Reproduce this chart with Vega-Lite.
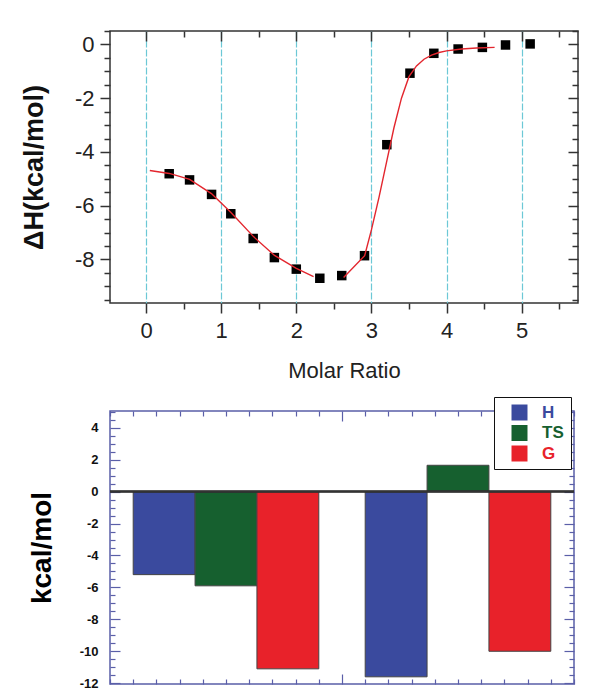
{
  "$schema": "https://vega.github.io/schema/vega-lite/v6.json",
  "background": "white",
  "padding": {"left": 19, "top": 19, "right": 0, "bottom": 0},
  "config": {
    "font": "Liberation Sans",
    "axis": {"labelFont": "Liberation Sans", "titleFont": "Liberation Sans"},
    "legend": {"labelFont": "Liberation Sans"}
  },
  "datasets": {
    "points": [
      {"ratio": 0.308, "dH": -4.81},
      {"ratio": 0.579, "dH": -5.04},
      {"ratio": 0.872, "dH": -5.58},
      {"ratio": 1.128, "dH": -6.30},
      {"ratio": 1.426, "dH": -7.22},
      {"ratio": 1.708, "dH": -7.93},
      {"ratio": 2.0, "dH": -8.36},
      {"ratio": 2.313, "dH": -8.70},
      {"ratio": 2.605, "dH": -8.60},
      {"ratio": 2.908, "dH": -7.86},
      {"ratio": 3.205, "dH": -3.73},
      {"ratio": 3.513, "dH": -1.07},
      {"ratio": 3.831, "dH": -0.33},
      {"ratio": 4.154, "dH": -0.17},
      {"ratio": 4.477, "dH": -0.11},
      {"ratio": 4.785, "dH": -0.02},
      {"ratio": 5.113, "dH": 0.02}
    ],
    "fit": [
      {"seg": "a", "ratio": 0.05, "dH": -4.69},
      {"seg": "a", "ratio": 0.31, "dH": -4.80},
      {"seg": "a", "ratio": 0.58, "dH": -5.02},
      {"seg": "a", "ratio": 0.87, "dH": -5.55},
      {"seg": "a", "ratio": 1.13, "dH": -6.25},
      {"seg": "a", "ratio": 1.43, "dH": -7.15},
      {"seg": "a", "ratio": 1.71, "dH": -7.85},
      {"seg": "a", "ratio": 2.0, "dH": -8.33},
      {"seg": "a", "ratio": 2.23, "dH": -8.64},
      {"seg": "b", "ratio": 2.63, "dH": -8.67},
      {"seg": "b", "ratio": 2.91, "dH": -7.86},
      {"seg": "b", "ratio": 3.0, "dH": -6.9},
      {"seg": "b", "ratio": 3.1, "dH": -5.7},
      {"seg": "b", "ratio": 3.2, "dH": -4.4},
      {"seg": "b", "ratio": 3.3, "dH": -3.1},
      {"seg": "b", "ratio": 3.4, "dH": -2.0},
      {"seg": "b", "ratio": 3.5, "dH": -1.2},
      {"seg": "b", "ratio": 3.6, "dH": -0.8},
      {"seg": "b", "ratio": 3.7, "dH": -0.55},
      {"seg": "b", "ratio": 3.8, "dH": -0.4},
      {"seg": "b", "ratio": 3.9, "dH": -0.3},
      {"seg": "b", "ratio": 4.0, "dH": -0.24},
      {"seg": "b", "ratio": 4.2, "dH": -0.17},
      {"seg": "b", "ratio": 4.4, "dH": -0.13},
      {"seg": "b", "ratio": 4.64, "dH": -0.11}
    ],
    "bars": [
      {"group": "1", "term": "H", "value": -5.2},
      {"group": "1", "term": "TS", "value": -5.9},
      {"group": "1", "term": "G", "value": -11.1},
      {"group": "2", "term": "H", "value": -11.6},
      {"group": "2", "term": "TS", "value": 1.65},
      {"group": "2", "term": "G", "value": -10.0}
    ]
  },
  "spacing": 13,
  "resolve": {"scale": {"color": "independent"}, "legend": {"color": "independent"}},
  "vconcat": [
    {
      "width": 468,
      "height": 272,
      "view": {"stroke": "#333333", "strokeWidth": 1.5},
      "layer": [
        {
          "data": {"name": "points"},
          "mark": {"type": "square", "size": 90, "color": "black", "opacity": 1},
          "encoding": {
            "x": {
              "field": "ratio", "type": "quantitative",
              "scale": {"domain": [-0.48, 5.75], "nice": false, "zero": false},
              "axis": {
                "orient": "bottom",
                "values": [0, 0.5, 1, 1.5, 2, 2.5, 3, 3.5, 4, 4.5, 5, 5.5],
                "labelExpr": "datum.value % 1 == 0 ? '' + datum.value : ''",
                "tickSize": {"condition": {"test": "datum.value % 1 == 0", "value": 10}, "value": 6},
                "tickColor": "#333333", "tickWidth": 1.5,
                "grid": true, "gridColor": "#6cc8d6", "gridDash": [7, 2], "gridWidth": 1.2,
                "gridOpacity": {"condition": {"test": "datum.value % 1 == 0", "value": 1}, "value": 0},
                "domain": false,
                "labelFontSize": 22, "labelColor": "#222222", "labelPadding": 7, "labelFlush": false,
                "title": "Molar Ratio", "titleFontSize": 22, "titleFontWeight": "normal",
                "titleColor": "#222222", "titlePadding": 19
              }
            },
            "y": {
              "field": "dH", "type": "quantitative",
              "scale": {"domain": [-9.62, 0.5], "nice": false, "zero": false},
              "axis": {
                "orient": "left",
                "values": [-9.5, -9, -8.5, -8, -7.5, -7, -6.5, -6, -5.5, -5, -4.5, -4, -3.5, -3, -2.5, -2, -1.5, -1, -0.5, 0, 0.5],
                "labelExpr": "datum.value % 2 == 0 ? '' + datum.value : ''",
                "tickSize": {"condition": {"test": "datum.value % 2 == 0", "value": 10}, "value": 6},
                "tickColor": "#333333", "tickWidth": 1.5,
                "grid": false, "domain": false,
                "labelFontSize": 22, "labelColor": "#222222", "labelPadding": 6, "labelFlush": false,
                "labelOverlap": false,
                "title": "ΔH(kcal/mol)", "titleFontSize": 27, "titleFontWeight": "bold",
                "titleColor": "#111111", "titlePadding": 26
              }
            }
          }
        },
        {
          "data": {"name": "fit"},
          "mark": {"type": "line", "color": "#e3262e", "strokeWidth": 1.4},
          "encoding": {
            "x": {
              "field": "ratio", "type": "quantitative",
              "scale": {"domain": [-0.48, 5.75], "nice": false, "zero": false},
              "axis": {
                "orient": "top",
                "values": [0, 0.5, 1, 1.5, 2, 2.5, 3, 3.5, 4, 4.5, 5, 5.5],
                "labels": false, "domain": false, "grid": false, "title": null,
                "tickSize": {"condition": {"test": "datum.value % 1 == 0", "value": -10}, "value": -6},
                "tickColor": "#333333", "tickWidth": 1.5
              }
            },
            "y": {
              "field": "dH", "type": "quantitative",
              "scale": {"domain": [-9.62, 0.5], "nice": false, "zero": false},
              "axis": {
                "orient": "right",
                "values": [-9.5, -9, -8.5, -8, -7.5, -7, -6.5, -6, -5.5, -5, -4.5, -4, -3.5, -3, -2.5, -2, -1.5, -1, -0.5, 0, 0.5],
                "labels": false, "domain": false, "grid": false, "title": null,
                "tickSize": {"condition": {"test": "datum.value % 2 == 0", "value": -10}, "value": -6},
                "tickColor": "#333333", "tickWidth": 1.5
              }
            },
            "detail": {"field": "seg"}
          }
        }
      ],
      "resolve": {"axis": {"x": "independent", "y": "independent"}}
    },
    {
      "width": 464,
      "height": 273,
      "view": {"stroke": "#5a5fa8", "strokeWidth": 1.5},
      "data": {"name": "bars"},
      "layer": [
        {
          "mark": {"type": "bar", "stroke": "#444444", "strokeWidth": 1},
          "encoding": {
            "x": {"field": "group", "type": "nominal", "axis": null,
                  "scale": {"paddingInner": 0.2, "paddingOuter": 0.1}},
            "xOffset": {"field": "term", "type": "nominal", "sort": ["H", "TS", "G"],
                        "scale": {"paddingInner": 0, "paddingOuter": 0}},
            "y": {
              "field": "value", "type": "quantitative",
              "scale": {"domain": [-12.05, 5.05], "nice": false, "zero": false},
              "axis": {
                "orient": "left",
                "values": [-12, -11.5, -11, -10.5, -10, -9.5, -9, -8.5, -8, -7.5, -7, -6.5, -6, -5.5, -5, -4.5, -4, -3.5, -3, -2.5, -2, -1.5, -1, -0.5, 0, 0.5, 1, 1.5, 2, 2.5, 3, 3.5, 4, 4.5, 5],
                "labelExpr": "datum.value % 2 == 0 ? '' + datum.value : ''",
                "tickSize": {"condition": {"test": "datum.value % 2 == 0", "value": -10}, "value": -5},
                "tickColor": "#5a5fa8", "tickWidth": 1.2,
                "grid": false, "domain": false,
                "labelFontSize": 13, "labelFontWeight": "bold", "labelColor": "#111111",
                "labelPadding": 22, "labelFlush": false, "labelOverlap": false,
                "title": "kcal/mol", "titleFontSize": 28, "titleFontWeight": "bold",
                "titleColor": "#000000", "titlePadding": 23
              }
            },
            "color": {
              "field": "term", "type": "nominal",
              "scale": {"domain": ["H", "TS", "G"], "range": ["#3a4a9e", "#16602f", "#e8222a"]},
              "legend": {
                "title": null, "orient": "none", "legendX": 384, "legendY": -14,
                "fillColor": "white", "strokeColor": "#111111", "padding": 7,
                "symbolType": "square", "symbolSize": 256, "symbolStrokeWidth": 0,
                "symbolOpacity": 1, "symbolOffset": 10,
                "labelFontSize": 17, "labelFontWeight": "bold", "labelOffset": 14,
                "labelColor": {"expr": "datum.value === 'H' ? '#3a4a9e' : datum.value === 'TS' ? '#16602f' : '#e8222a'"},
                "rowPadding": 2.5, "labelLimit": 100,
                "encode": {
                  "legend": {"strokeWidth": {"value": 2}}
                }
              }
            }
          }
        },
        {
          "mark": {"type": "rule", "color": "#333333", "strokeWidth": 1.5},
          "encoding": {"y": {"datum": 0, "type": "quantitative", "axis": null}}
        },
        {
          "mark": {"type": "point", "opacity": 0},
          "encoding": {
            "y": {
              "datum": 0, "type": "quantitative",
              "axis": {
                "orient": "right",
                "values": [-12, -11.5, -11, -10.5, -10, -9.5, -9, -8.5, -8, -7.5, -7, -6.5, -6, -5.5, -5, -4.5, -4, -3.5, -3, -2.5, -2, -1.5, -1, -0.5, 0, 0.5, 1, 1.5, 2, 2.5, 3, 3.5, 4, 4.5, 5],
                "labels": false, "domain": false, "grid": false, "title": null,
                "tickSize": {"condition": {"test": "datum.value % 2 == 0", "value": -10}, "value": -5},
                "tickColor": "#5a5fa8", "tickWidth": 1.2
              }
            }
          }
        },
        {
          "mark": {"type": "point", "opacity": 0},
          "encoding": {
            "y": {"datum": 0, "type": "quantitative", "axis": null},
            "x": {
              "datum": 1, "type": "quantitative",
              "scale": {"domain": [0, 2], "nice": false, "zero": false},
              "axis": {
                "orient": "bottom",
                "values": [0, 0.1, 0.2, 0.3, 0.4, 0.5, 0.6, 0.7, 0.8, 0.9, 1, 1.1, 1.2, 1.3, 1.4, 1.5, 1.6, 1.7, 1.8, 1.9, 2],
                "labels": false, "domain": false, "grid": false, "title": null,
                "tickSize": {"condition": {"test": "datum.value == 1", "value": -10}, "value": -5},
                "tickColor": "#5a5fa8", "tickWidth": 1.2
              }
            }
          }
        },
        {
          "mark": {"type": "point", "opacity": 0},
          "encoding": {
            "y": {"datum": 0, "type": "quantitative", "axis": null},
            "x": {
              "datum": 1, "type": "quantitative",
              "scale": {"domain": [0, 2], "nice": false, "zero": false},
              "axis": {
                "orient": "top",
                "values": [0, 0.1, 0.2, 0.3, 0.4, 0.5, 0.6, 0.7, 0.8, 0.9, 1, 1.1, 1.2, 1.3, 1.4, 1.5, 1.6, 1.7, 1.8, 1.9, 2],
                "labels": false, "domain": false, "grid": false, "title": null,
                "tickSize": {"condition": {"test": "datum.value == 1", "value": -10}, "value": -5},
                "tickColor": "#5a5fa8", "tickWidth": 1.2
              }
            }
          }
        }
      ],
      "resolve": {"scale": {"x": "independent"}, "axis": {"x": "independent", "y": "independent"}}
    }
  ]
}
